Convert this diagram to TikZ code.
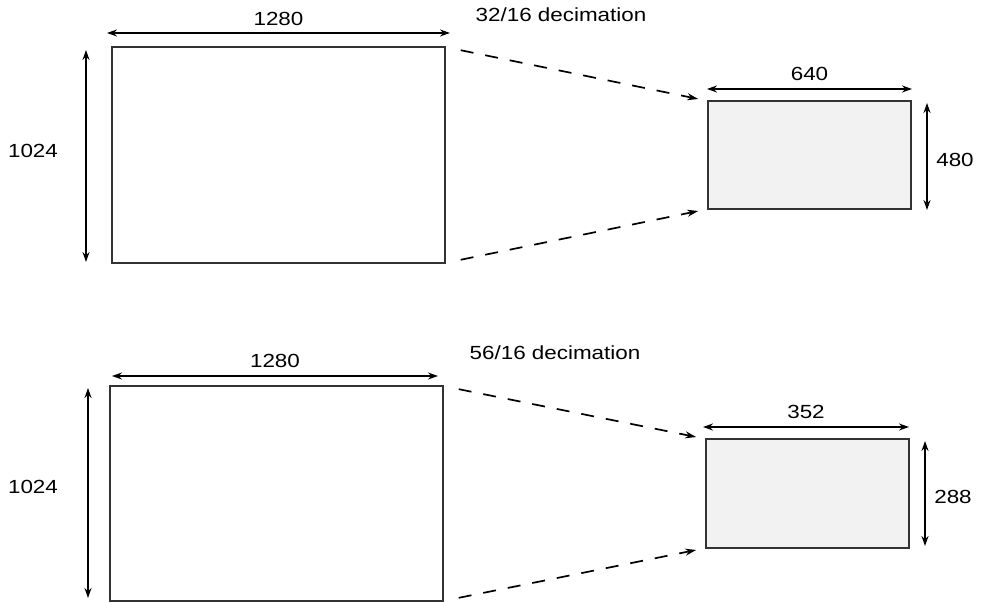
\documentclass[tikz,border=0pt]{standalone}
\usepackage{fontspec}
\setmainfont{Liberation Sans}[FakeStretch=1.18]
\usetikzlibrary{arrows.meta}
\definecolor{frameline}{HTML}{333333}
\definecolor{subfill}{HTML}{F2F2F2}
\tikzset{
  frame/.style  = {rectangle, draw=frameline, line width=2pt, inner sep=0pt, outer sep=0pt},
  full/.style   = {frame, fill=white, minimum width=333pt},
  sub/.style    = {frame, fill=subfill, minimum width=203pt},
  dim/.style    = {{Stealth[length=10pt,width=7pt]}-{Stealth[length=10pt,width=7pt]}, line width=1.6pt},
  decim/.style  = {-{Stealth[length=11pt,width=7pt]}, line width=1.7pt, dash pattern=on 13pt off 12pt,
                   shorten <=16pt, shorten >=10pt},
  lbl/.style    = {inner sep=0pt, font=\fontsize{19}{22}\selectfont},
}
\begin{document}
\begin{tikzpicture}[x=1pt, y=1pt]
      \useasboundingbox (0,0) rectangle (984,602);

      % 32/16 decimation
      \node[full, minimum height=216pt] (bigA)   at (278.5, 447) {};
      \node[sub,  minimum height=108pt] (smallA) at (809.5, 447) {};
      \node[lbl] (decA) at (561, 587) {32/16 decimation};

      \draw[dim] ([shift={(-5,14)}]bigA.north west) -- ([shift={(5,14)}]bigA.north east)
        node[lbl, midway, above=7pt] (wA) {1280};
      \draw[dim] ([shift={(-26,-3)}]bigA.north west) -- ([shift={(-26,1)}]bigA.south west);
      \node[lbl] (hA) at (33, 451) {1024};
      \draw[dim] ([shift={(-1,12)}]smallA.north west) -- ([shift={(1,12)}]smallA.north east)
        node[lbl, midway, above=8pt] (wa) {640};
      \draw[dim] ([shift={(16,-2)}]smallA.north east) -- ([shift={(16,-1)}]smallA.south east);
      \node[lbl] (ha) at (955, 442) {480};

      \draw[decim] (bigA.north east) -- (smallA.north west);
      \draw[decim] (bigA.south east) -- (smallA.south west);

      % 56/16 decimation
      \node[full, minimum height=215pt] (bigB)   at (276.5, 108.5) {};
      \node[sub,  minimum height=109pt] (smallB) at (807.5, 108.5) {};
      \node[lbl] (decB) at (555, 249) {56/16 decimation};

      \draw[dim] ([shift={(2,10)}]bigB.north west) -- ([shift={(-5,10)}]bigB.north east)
        node[lbl, midway, above=8pt] (wB) {1280};
      \draw[dim] ([shift={(-22,-2)}]bigB.north west) -- ([shift={(-22,3)}]bigB.south west);
      \node[lbl] (hB) at (33, 115) {1024};
      \draw[dim] ([shift={(-3,12)}]smallB.north west) -- ([shift={(0,12)}]smallB.north east)
        node[lbl, midway, above=8pt] (wb) {352};
      \draw[dim] ([shift={(16,-2)}]smallB.north east) -- ([shift={(16,2)}]smallB.south east);
      \node[lbl] (hb) at (953, 105) {288};

      \draw[decim] (bigB.north east) -- (smallB.north west);
      \draw[decim] (bigB.south east) -- (smallB.south west);
    \end{tikzpicture}
\end{document}
